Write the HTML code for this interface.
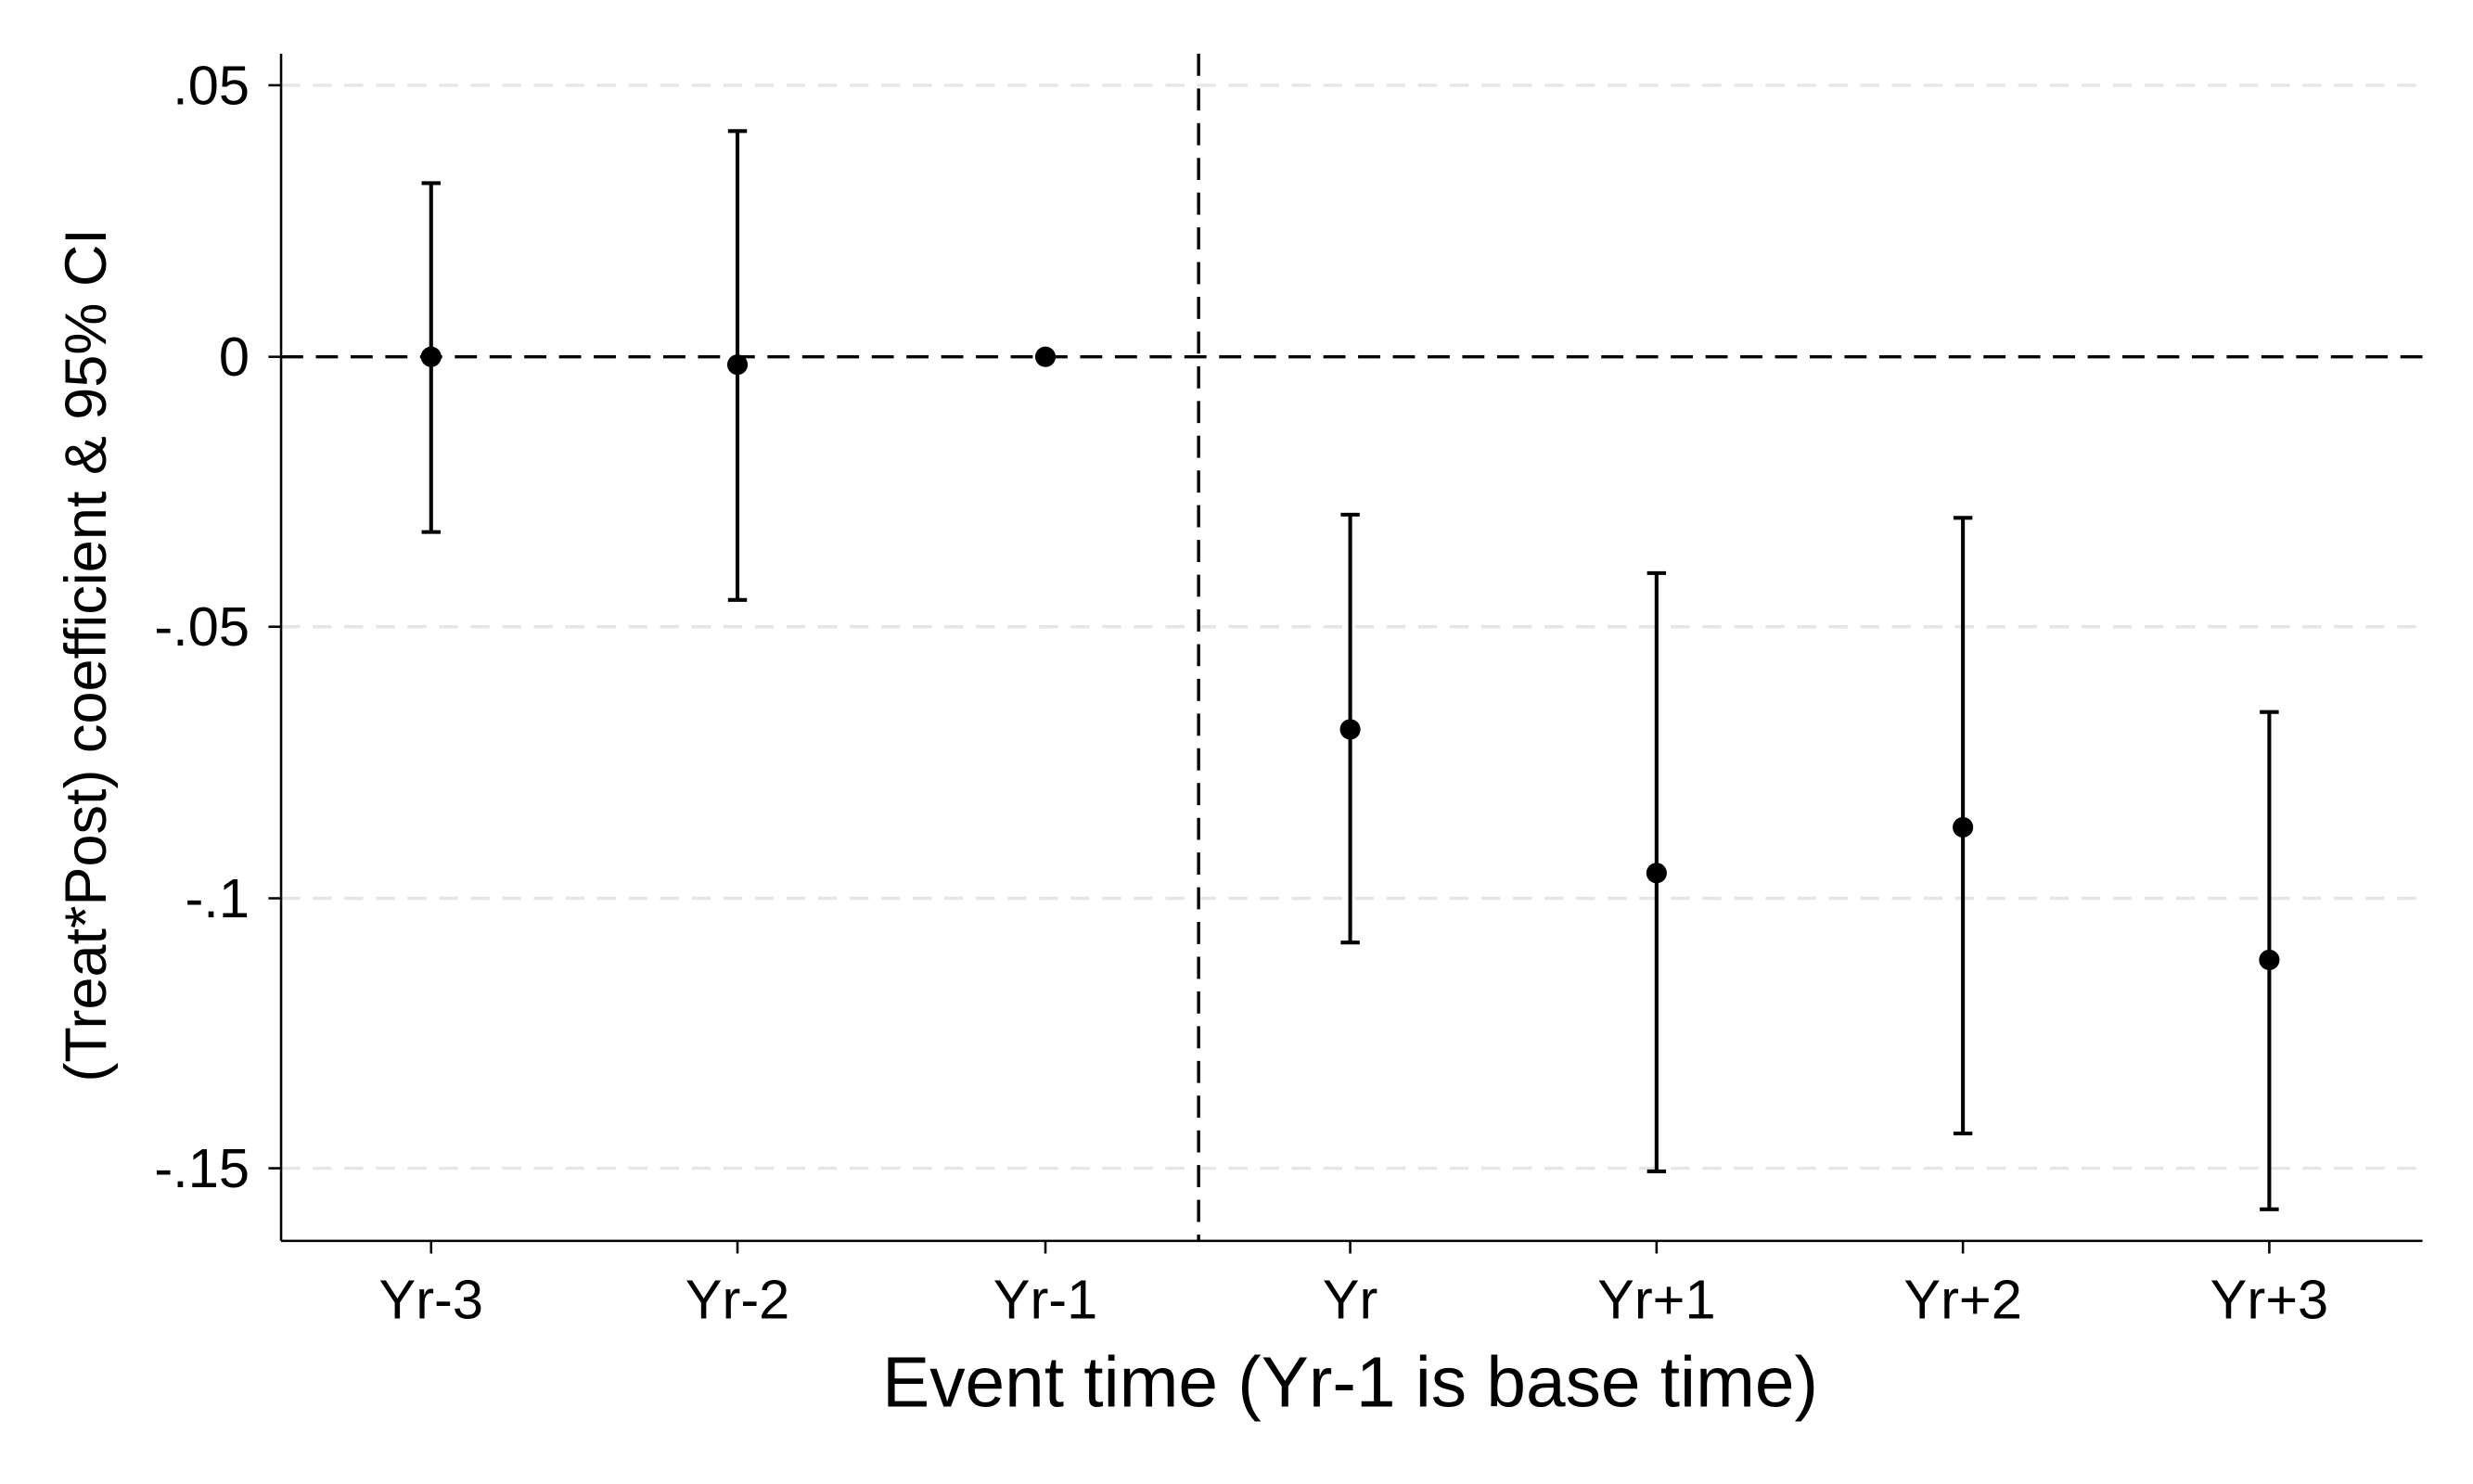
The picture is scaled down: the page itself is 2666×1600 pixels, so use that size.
<!DOCTYPE html>
<html><head><meta charset="utf-8"><style>
html,body{margin:0;padding:0;background:#fff;}
svg{display:block;}
text{font-family:"Liberation Sans",Arial,sans-serif;fill:#000;}
</style></head><body>
<svg width="2666" height="1600" viewBox="0 0 1566 940" preserveAspectRatio="none" xmlns="http://www.w3.org/2000/svg">
<rect width="1566" height="940" fill="#fff"/>
<g stroke="#e6e6e6" stroke-width="2" stroke-dasharray="12,8">
<line x1="178" y1="54" x2="1534" y2="54"/>
<line x1="178" y1="397" x2="1534" y2="397"/>
<line x1="178" y1="569" x2="1534" y2="569"/>
<line x1="178" y1="740" x2="1534" y2="740"/>
</g>
<g stroke="#000" stroke-width="2" stroke-dasharray="14,8">
<line x1="178" y1="226" x2="1534" y2="226"/>
<line x1="759" y1="34" x2="759" y2="786"/>
</g>
<g stroke="#000" stroke-width="1.5">
<line x1="178" y1="34" x2="178" y2="786"/>
<line x1="178" y1="786" x2="1534" y2="786"/>
<line x1="170" y1="54" x2="178" y2="54"/><line x1="170" y1="226" x2="178" y2="226"/>
<line x1="170" y1="397" x2="178" y2="397"/><line x1="170" y1="569" x2="178" y2="569"/>
<line x1="170" y1="740" x2="178" y2="740"/>
<line x1="273" y1="786" x2="273" y2="794"/><line x1="467" y1="786" x2="467" y2="794"/>
<line x1="662" y1="786" x2="662" y2="794"/><line x1="855" y1="786" x2="855" y2="794"/>
<line x1="1049" y1="786" x2="1049" y2="794"/><line x1="1243" y1="786" x2="1243" y2="794"/>
<line x1="1437" y1="786" x2="1437" y2="794"/>
</g>
<g stroke="#000" stroke-width="2.4" fill="none">
<path d="M273 116V337M267 116H279M267 337H279"/>
<path d="M467 83V380M461 83H473M461 380H473"/>
<path d="M855 326V597M849 326H861M849 597H861"/>
<path d="M1049 363V742M1043 363H1055M1043 742H1055"/>
<path d="M1243 328V718M1237 328H1249M1237 718H1249"/>
<path d="M1437 451V766M1431 451H1443M1431 766H1443"/>
</g>
<g fill="#000">
<circle cx="273" cy="226" r="6.5"/><circle cx="467" cy="231" r="6.5"/>
<circle cx="662" cy="226" r="6.5"/><circle cx="855" cy="462" r="6.5"/>
<circle cx="1049" cy="553" r="6.5"/><circle cx="1243" cy="524" r="6.5"/>
<circle cx="1437" cy="608" r="6.5"/>
</g>
<g font-size="35" text-anchor="end">
<text x="158" y="66">.05</text><text x="158" y="238">0</text>
<text x="158" y="409">-.05</text><text x="158" y="581">-.1</text>
<text x="158" y="752">-.15</text>
</g>
<g font-size="35" text-anchor="middle">
<text x="273" y="835">Yr-3</text><text x="467" y="835">Yr-2</text>
<text x="662" y="835">Yr-1</text><text x="855" y="835">Yr</text>
<text x="1049" y="835">Yr+1</text><text x="1243" y="835">Yr+2</text>
<text x="1437" y="835">Yr+3</text>
</g>
<text x="855" y="891" font-size="45" text-anchor="middle">Event time (Yr-1 is base time)</text>
<text transform="translate(67,415) rotate(-90)" font-size="37" text-anchor="middle">(Treat*Post) coefficient &amp; 95% CI</text>
</svg>
</body></html>
